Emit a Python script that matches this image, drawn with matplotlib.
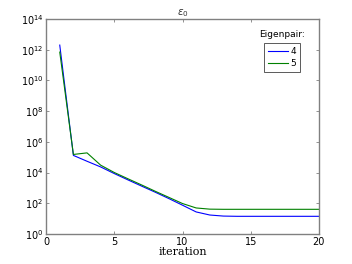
import matplotlib
matplotlib.use('Agg')
import matplotlib.pyplot as plt
from matplotlib.ticker import FixedLocator, FixedFormatter

iterations = list(range(1, 21))
eig4 = [2e12, 1.3e5, 5.4e4, 2.3e4, 8.5e3, 3.3e3, 1.3e3, 5.2e2, 2.0e2, 7.4e1,
        2.7e1, 1.7e1, 1.45e1, 1.4e1, 1.4e1, 1.4e1, 1.4e1, 1.4e1, 1.4e1, 1.4e1]
eig5 = [7e11, 1.5e5, 1.9e5, 3.0e4, 1.0e4, 3.9e3, 1.55e3, 6.0e2, 2.4e2, 9.5e1,
        4.9e1, 4.1e1, 4.0e1, 4.0e1, 4.0e1, 4.0e1, 4.0e1, 4.0e1, 4.0e1, 4.0e1]
labels = ['4', '5']

fig = plt.figure(figsize=(3.52, 2.64), dpi=100)
ax = fig.add_axes([0.131, 0.114, 0.775, 0.814])

ax.semilogy(iterations, eig4, color='#0000ff', lw=0.8, label=labels[0])
ax.semilogy(iterations, eig5, color='#008000', lw=0.8, label=labels[1])

ax.set_xlim(0, 20)
ax.set_ylim(1, 1e14)
ax.set_xticks([0, 5, 10, 15, 20])
yt = [10.0 ** k for k in range(0, 15, 2)]
ax.yaxis.set_major_locator(FixedLocator(yt))
ax.yaxis.set_major_formatter(FixedFormatter(['$10^{%d}$' % k for k in range(0, 15, 2)]))
ax.yaxis.set_minor_locator(FixedLocator([]))
ax.tick_params(direction='in', length=2.5, width=0.6, color='#808080',
               labelsize=7, top=True, right=True, pad=2)
for s in ax.spines.values():
    s.set_color('#808080')
    s.set_linewidth(1.0)

ax.set_title(r'$\varepsilon_0$', fontsize=7.5, pad=3, color='#333333')
ax.set_xlabel('iteration', family='serif', fontsize=8, labelpad=0)

leg = ax.legend(loc='upper right', bbox_to_anchor=(0.93, 0.888), fontsize=6.5,
                handlelength=2.2, handletextpad=0.3, borderpad=0.4,
                labelspacing=0.4, borderaxespad=0, fancybox=False, framealpha=1)
leg.get_frame().set_edgecolor('#404040')
leg.get_frame().set_linewidth(0.6)
ax.text(0.949, 0.926, 'Eigenpair:', transform=ax.transAxes, ha='right',
        va='center', fontsize=6.5)

fig.savefig('out.png', dpi=100)
